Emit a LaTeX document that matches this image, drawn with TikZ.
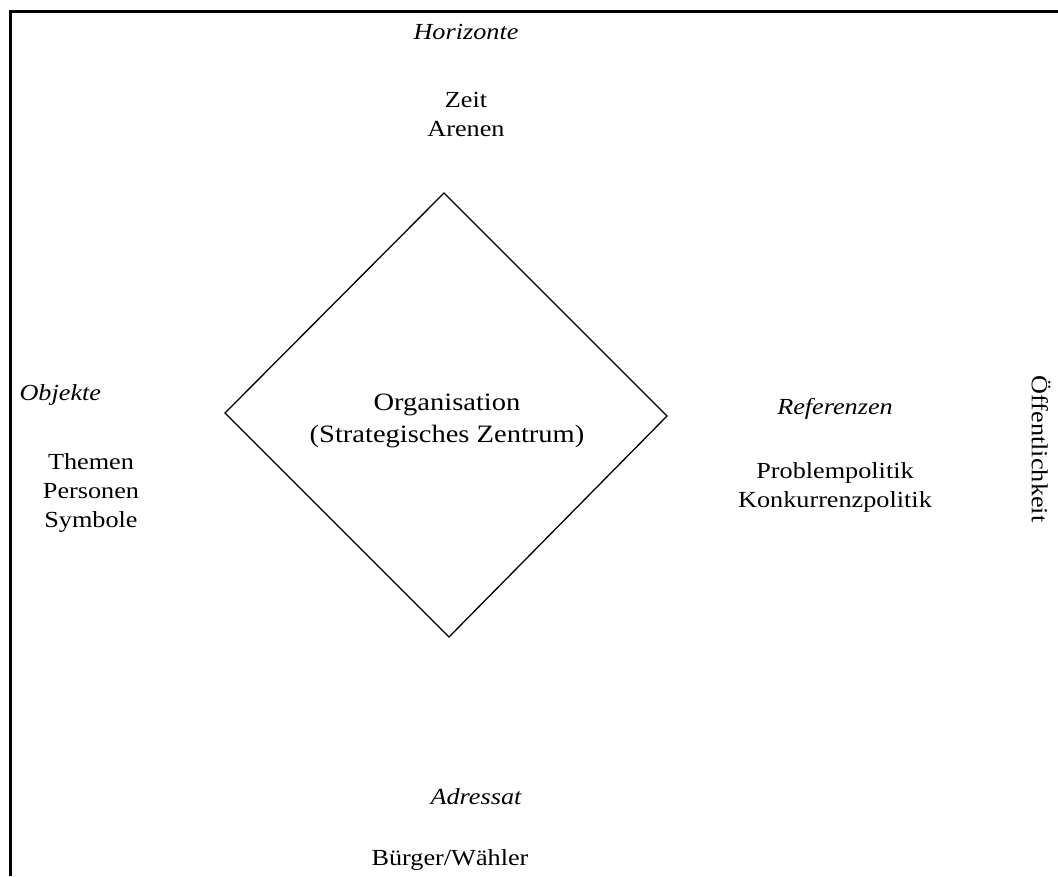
\documentclass[tikz,border=0pt]{standalone}
\usepackage{fontspec}
\setmainfont{Liberation Serif}[FakeStretch=1.14]
\usepackage{tikz}
\usetikzlibrary{calc}

\begin{document}
\begin{tikzpicture}[x=1pt,y=-1pt,
        cat/.style={font=\fontsize{23}{29}\selectfont\itshape},
        items/.style={font=\fontsize{23}{29}\selectfont,align=center}]
        \useasboundingbox (0,0) rectangle (1058,876);
        % frame
        \draw[line width=3pt] (10,876) -- (10,11) -- (1058,11);
        % diamond
        \coordinate (top) at (444,193);
        \coordinate (right) at (667,416);
        \coordinate (bottom) at (449,637);
        \coordinate (left) at (225,413);
        \draw[line width=1.3pt] (top) -- (right) -- (bottom) -- (left) -- cycle;
        \node[items,font=\fontsize{25}{32}\selectfont] (org) at (447,421) {Organisation\\(Strategisches Zentrum)};
        % the four sides
        \node[cat] (hor) at (466,32) {Horizonte};
        \node[items] (horitems) at (466,114) {Zeit\\Arenen};
        \node[cat,anchor=west] (obj) at (16,395) {Objekte};
        \node[items] (objitems) at (91,493) {Themen\\Personen\\Symbole};
        \node[cat] (ref) at (835,409) {Referenzen};
        \node[items] (refitems) at (835,487) {Problempolitik\\Konkurrenzpolitik};
        \node[cat] (adr) at (476,797) {Adressat};
        \node[items] (adritems) at (450,860) {Bürger/Wähler};
        \node[items,rotate=-90] (oeff) at (1041,449) {Öffentlichkeit};
\end{tikzpicture}
\end{document}
